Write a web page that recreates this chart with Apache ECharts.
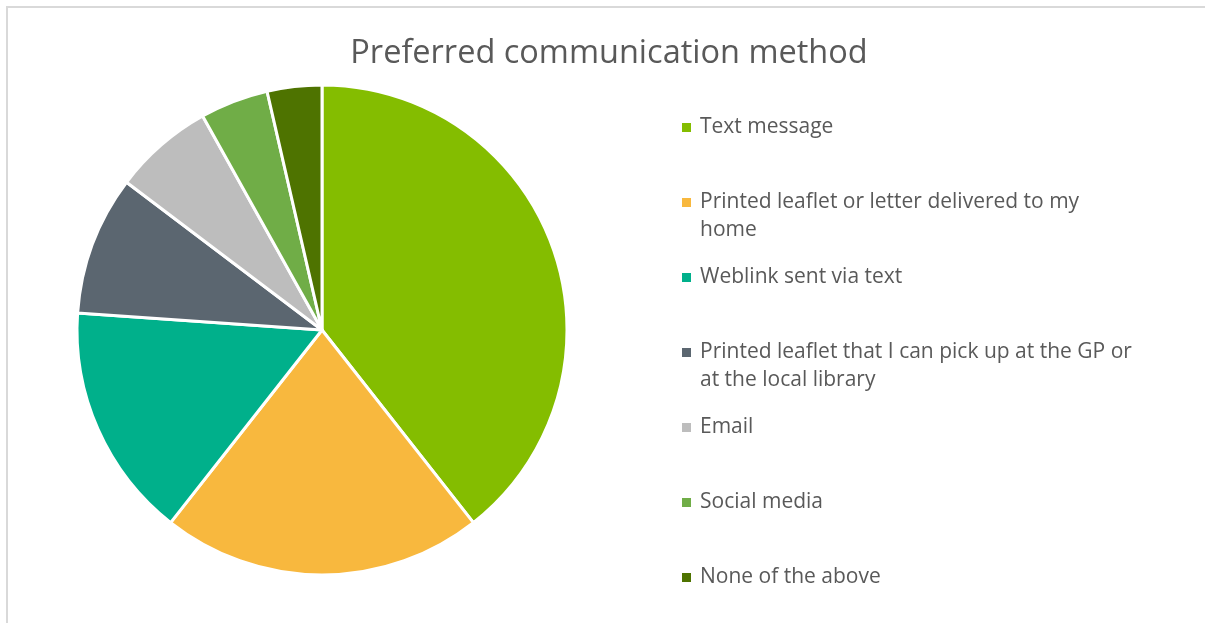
<!DOCTYPE html>
<html>
<head>
<meta charset="utf-8">
<script src="https://cdn.jsdelivr.net/npm/echarts@6/dist/echarts.min.js"></script>
<style>
html,body{margin:0;padding:0;background:#fff;}
#chart{width:1205px;height:623px;}
</style>
</head>
<body>
<div id="chart"></div>
<script>
const title = 'Preferred communication method';
const categories = [
  'Text message',
  'Printed leaflet or letter delivered to my home',
  'Weblink sent via text',
  'Printed leaflet that I can pick up at the GP or at the local library',
  'Email',
  'Social media',
  'None of the above'
];
const values = [39.4, 21.2, 15.5, 9.2, 6.6, 4.5, 3.6];
const colors = ['#84BD00', '#F8B83E', '#00B08B', '#5B6670', '#BDBDBD', '#70AD47', '#4E7300'];
const legendLines = [
  ['Text message'],
  ['Printed leaflet or letter delivered to my', 'home'],
  ['Weblink sent via text'],
  ['Printed leaflet that I can pick up at the GP or', 'at the local library'],
  ['Email'],
  ['Social media'],
  ['None of the above']
];

const FONT = 'Open Sans';
const chart = echarts.init(document.getElementById('chart'));

const legends = categories.map((name, i) => ({
  data: [name],
  left: 671,
  top: 112 + 75 * i,
  orient: 'vertical',
  icon: 'rect',
  itemWidth: 1,
  itemHeight: 1,
  itemStyle: { color: 'rgba(0,0,0,0)', borderWidth: 0 },
  selectedMode: false,
  formatter: () => legendLines[i].map((ln, k) =>
    (k === 0 ? '{sq|}{sp|}' : '{ind|}') + '{t|' + ln + '}').join('\n'),
  textStyle: {
    rich: {
      sq: { width: 9, height: 9, backgroundColor: colors[i], verticalAlign: 'middle', lineHeight: 28 },
      sp: { width: 9, height: 9, verticalAlign: 'middle', lineHeight: 28 },
      ind: { width: 18, height: 9, verticalAlign: 'middle', lineHeight: 28 },
      t: { fontFamily: FONT, fontSize: 21, color: '#595959', lineHeight: 28, verticalAlign: 'middle' }
    }
  }
}));

chart.setOption({
  animation: false,
  backgroundColor: '#fff',
  title: {
    text: title,
    left: 604,
    top: 32,
    textAlign: 'center',
    textStyle: { fontFamily: FONT, fontSize: 32.5, fontWeight: 'normal', color: '#595959' }
  },
  legend: legends,
  graphic: [
    { type: 'rect', shape: { x: 6, y: 6, width: 1199, height: 2 }, style: { fill: '#D9D9D9' }, silent: true },
    { type: 'rect', shape: { x: 6, y: 6, width: 2, height: 617 }, style: { fill: '#D9D9D9' }, silent: true }
  ],
  series: [{
    type: 'pie',
    center: [322, 330],
    radius: [0, 245],
    startAngle: 90,
    clockwise: true,
    label: { show: false },
    labelLine: { show: false },
    itemStyle: { borderColor: '#fff', borderWidth: 3 },
    emphasis: { disabled: true },
    data: categories.map((c, i) => ({ name: c, value: values[i], itemStyle: { color: colors[i] } }))
  }]
});
</script>
</body>
</html>
